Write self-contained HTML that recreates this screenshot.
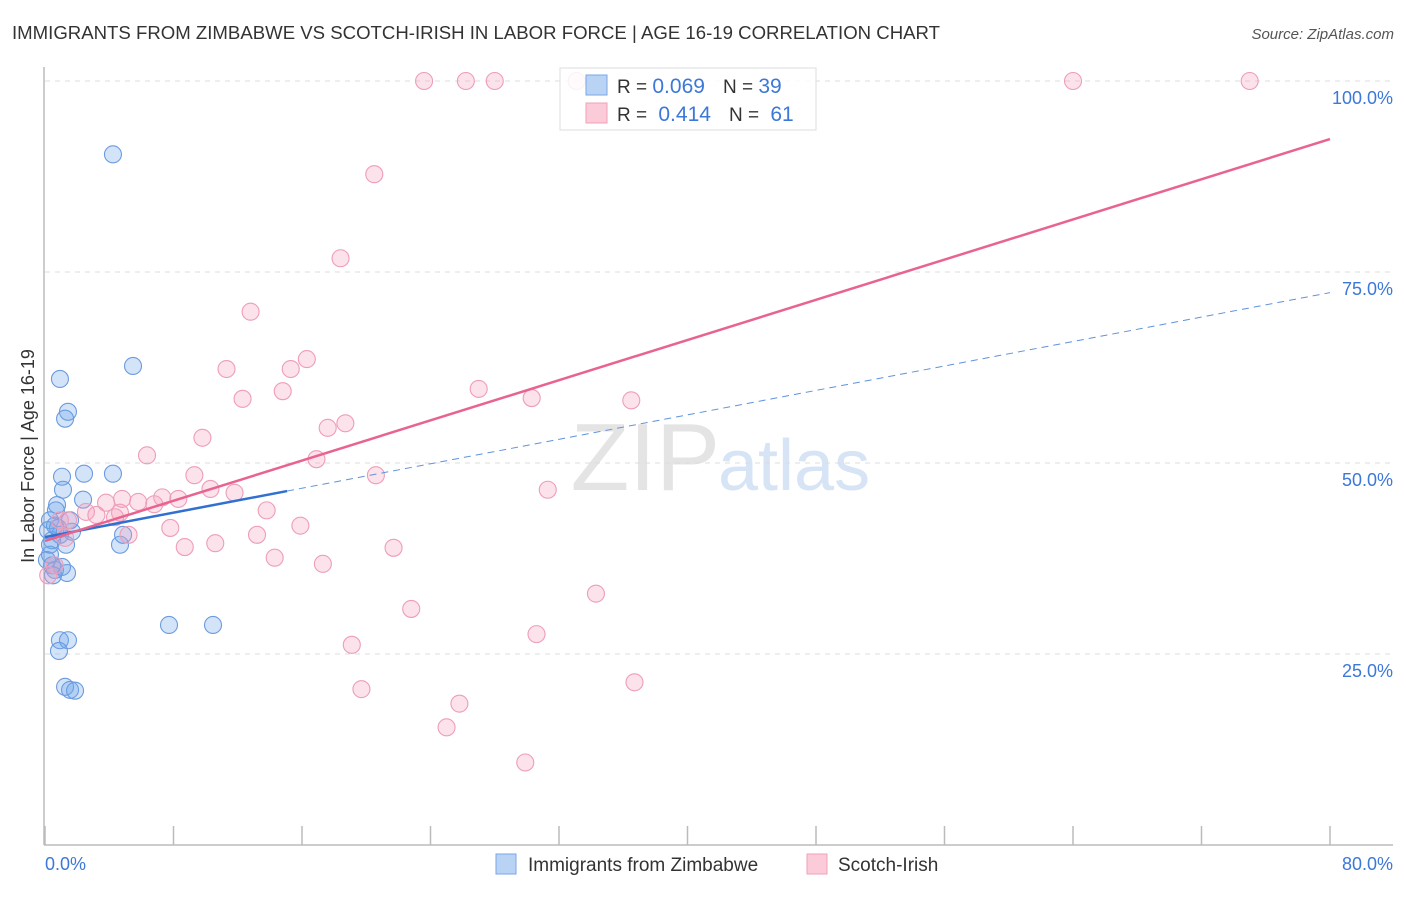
<!DOCTYPE html>
<html><head><meta charset="utf-8"><style>
body{margin:0;background:#fff;font-family:"Liberation Sans",sans-serif;}
svg text{font-family:"Liberation Sans",sans-serif;}
</style></head><body>
<svg id="chart" width="1406" height="892" xmlns="http://www.w3.org/2000/svg">
<text x="12" y="39" font-size="18" fill="#333" textLength="928" lengthAdjust="spacingAndGlyphs">IMMIGRANTS FROM ZIMBABWE VS SCOTCH-IRISH IN LABOR FORCE | AGE 16-19 CORRELATION CHART</text>
<text x="1394" y="39" font-size="15" fill="#555" font-style="italic" text-anchor="end">Source: ZipAtlas.com</text>
<text x="720" y="490" font-size="96" fill="#e4e4e4" text-anchor="end" font-family="Liberation Serif">ZIP</text>
<text x="718" y="490" font-size="72" fill="#d6e4f5">atlas</text>
<g id="grid"></g>
<g id="axes"></g>
<g id="pts"></g>
<g id="lines"></g>
<text transform="translate(34,456) rotate(-90)" font-size="18" fill="#333" text-anchor="middle">In Labor Force | Age 16-19</text>
<text x="45" y="870" font-size="18" fill="#3b78d8">0.0%</text>
<text x="1393" y="870" font-size="18" fill="#3b78d8" text-anchor="end">80.0%</text>
<g>
<rect x="560" y="68" width="256" height="62" fill="rgba(255,255,255,0.85)" stroke="#ddd"/>
<rect x="586" y="75" width="21" height="20" fill="#b9d3f5" stroke="#7aa6e6"/>
<rect x="586" y="103" width="21" height="20" fill="#fbcbd9" stroke="#f0a0b8"/>
<text x="617" y="93" font-size="19" fill="#333">R = <tspan fill="#3b78d8" font-size="21">0.069</tspan><tspan dx="18">N = </tspan><tspan fill="#3b78d8" font-size="21">39</tspan></text>
<text x="617" y="121" font-size="19" fill="#333">R = <tspan fill="#3b78d8" font-size="21" dx="6">0.414</tspan><tspan dx="18">N = </tspan><tspan fill="#3b78d8" font-size="21" dx="6">61</tspan></text>
</g>
<g>
<rect x="496" y="854" width="20" height="20" fill="#b9d3f5" stroke="#7aa6e6"/>
<text x="528" y="871" font-size="19" fill="#333">Immigrants from Zimbabwe</text>
<rect x="807" y="854" width="20" height="20" fill="#fbcbd9" stroke="#f0a0b8"/>
<text x="838" y="871" font-size="19" fill="#333">Scotch-Irish</text>
</g>
</svg>
<script>
const blueX=[4.23,5.48,0.93,1.43,1.25,2.43,4.23,1.06,1.12,2.37,0.75,0.68,0.31,0.62,1.68,0.93,0.44,4.67,4.86,0.31,0.44,0.62,1.37,1.06,0.93,1.43,0.87,1.25,1.56,1.87,7.72,10.46,0.19,0.31,0.5,0.81,0.12,1.31,1.56];
const blueY=[90.4,62.7,61.0,56.7,55.8,48.6,48.6,48.2,46.5,45.2,44.5,43.8,42.5,41.8,41.0,40.6,39.9,39.3,40.6,38.0,36.6,36.0,35.6,36.4,26.8,26.8,25.4,20.7,20.3,20.2,28.8,28.8,41.2,39.3,35.3,41.5,37.3,39.3,42.5];
const pinkX=[23.6,26.2,28.0,33.1,64.0,75.0,20.5,18.4,12.8,16.3,11.3,15.3,14.8,12.3,27.0,30.3,36.5,18.7,17.6,9.8,6.35,16.9,9.3,20.6,10.3,11.8,7.3,4.8,8.3,5.8,6.8,3.8,31.3,13.8,2.55,3.2,4.67,4.36,1.43,0.93,7.8,15.9,13.2,5.2,10.6,8.7,21.7,14.3,17.3,34.3,22.8,30.6,19.1,19.7,36.7,25.8,25.0,29.9,0.2,0.6,1.25];
const pinkY=[100,100,100,100,100,100,87.8,76.8,69.8,63.6,62.3,62.3,59.4,58.4,59.7,58.5,58.2,55.2,54.6,53.3,51.0,50.5,48.4,48.4,46.6,46.1,45.5,45.3,45.3,44.9,44.6,44.8,46.5,43.8,43.6,43.2,43.5,42.9,42.5,42.5,41.5,41.8,40.6,40.6,39.5,39.0,38.9,37.6,36.8,32.9,30.9,27.6,26.2,20.4,21.3,18.5,15.4,10.8,35.3,36.6,40.2];
const blueTrend=[40.3,72.3];
const blueSolidEnd=15.07;
const pinkTrend=[39.8,92.4];
const yTicks=[25,50,75,100];
const yTickLabels=["25.0%","50.0%","75.0%","100.0%"];
const xTicks=[0,8,16,24,32,40,48,56,64,72,80];
const NS="http://www.w3.org/2000/svg";
const sx=v=>45+v*(1285/80);
const sy=v=>845-v*7.64;
function mk(t,a,p){const e=document.createElementNS(NS,t);for(const k in a)e.setAttribute(k,a[k]);p.appendChild(e);return e;}
const grid=document.getElementById('grid'),axes=document.getElementById('axes'),pts=document.getElementById('pts'),lines=document.getElementById('lines');
yTicks.forEach((v,i)=>{
 const l=mk('line',{x1:45,x2:1393,y1:sy(v),y2:sy(v),stroke:'#ddd','stroke-dasharray':'5,5'},grid);
 
 
 const t=mk('text',{x:1393,y:sy(v)+23,'font-size':18,fill:'#3b78d8','text-anchor':'end'},grid);
 t.textContent=yTickLabels[i];
 
 
});
const ya=mk('line',{x1:44,x2:44,y1:67,y2:845,stroke:'#bbb','stroke-width':1.5},axes);


const xa=mk('line',{x1:44,x2:1393,y1:845,y2:845,stroke:'#bbb','stroke-width':1.5},axes);


xTicks.forEach(v=>{
 const t=mk('line',{x1:sx(v),x2:sx(v),y1:826,y2:845,stroke:'#bbb','stroke-width':1.5},axes);
 
 
});
blueX.forEach((x,i)=>{
 const c=mk('circle',{cx:sx(x),cy:sy(blueY[i]),r:8.5,fill:'rgba(110,165,235,0.3)',stroke:'#6c9bdf','stroke-width':1.1},pts);
 
 
});
pinkX.forEach((x,i)=>{
 const c=mk('circle',{cx:sx(x),cy:sy(pinkY[i]),r:8.5,fill:'rgba(245,160,190,0.3)',stroke:'#ee9db8','stroke-width':1.1},pts);
 
 
});
const by=x=>blueTrend[0]+(blueTrend[1]-blueTrend[0])*x/80;
const bs=mk('line',{x1:sx(0),y1:sy(blueTrend[0]),x2:sx(blueSolidEnd),y2:sy(by(blueSolidEnd)),stroke:'#3070d0','stroke-width':2.5},lines);


const bd=mk('line',{x1:sx(blueSolidEnd),y1:sy(by(blueSolidEnd)),x2:sx(80),y2:sy(blueTrend[1]),stroke:'#5f93dc','stroke-width':1,'stroke-dasharray':'7,5'},lines);


const pl=mk('line',{x1:sx(0),y1:sy(pinkTrend[0]),x2:sx(80),y2:sy(pinkTrend[1]),stroke:'#e8648e','stroke-width':2.5},lines);


</script>
</body></html>
